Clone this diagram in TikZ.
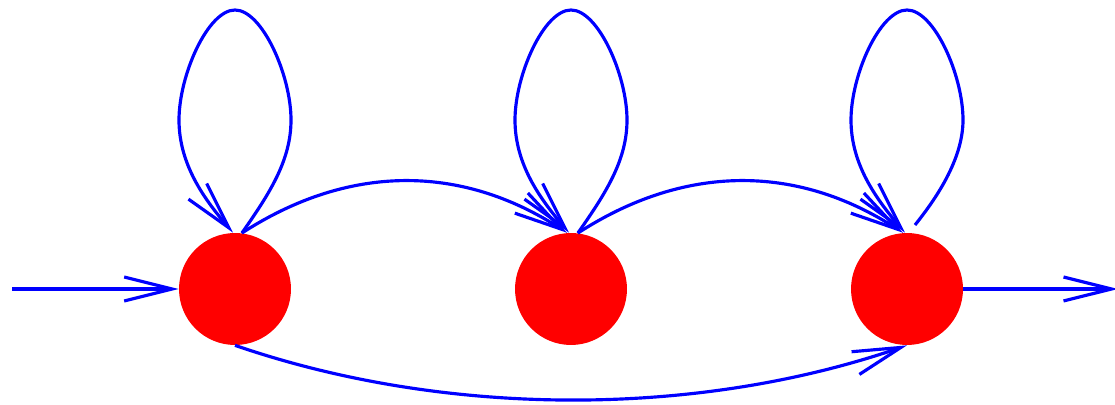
\documentclass[tikz,border=0pt]{standalone}
\usetikzlibrary{arrows.meta,calc}
\begin{document}
\begin{tikzpicture}[x=0.02cm,y=0.02cm,
  state/.style={circle,fill=red,draw=none,inner sep=0pt,minimum size=2.24cm},
  edge/.style={draw=blue,line width=1.8pt,-{Straight Barb[length=0.96cm,width=0.48cm,line width=1.8pt]}}]
\useasboundingbox (0,0) rectangle (1115,405);
\node[state] (c1) at (235,116) {};
\node[state] (c2) at (571,116) {};
\node[state] (c3) at (907,116) {};
\coordinate (in) at (12,116);
\coordinate (out) at (1118,116);
\coordinate (l3s) at (915,180);
% input / output
\draw[edge] (in) -- (c1.west);
\draw[edge] (c3.east) -- (out);
% self loops
\foreach \n/\cx in {1/235,2/571}{
  \draw[edge] (c\n.83) .. controls (\cx+35,212) and (\cx+56,245) .. (\cx+56,285)
    .. controls (\cx+56,330) and (\cx+27,395) .. (\cx,395)
    .. controls (\cx-27,395) and (\cx-56,330) .. (\cx-56,285)
    .. controls (\cx-56,240) and (\cx-30,205) .. (c\n.92);
}
\draw[edge] (l3s) .. controls (935,205) and (963,245) .. (963,285)
    .. controls (963,330) and (934,395) .. (907,395)
    .. controls (880,395) and (851,330) .. (851,285)
    .. controls (851,240) and (877,205) .. (c3.92);
% forward arcs
\draw[edge] (c1.83) to[out=33,in=147] (c2.94);
\draw[edge] (c2.83) to[out=33,in=147] (c3.94);
% bottom arc
\draw[edge] (c1.south) to[out=-19,in=199,looseness=0.85] (c3.south);
\end{tikzpicture}
\end{document}
